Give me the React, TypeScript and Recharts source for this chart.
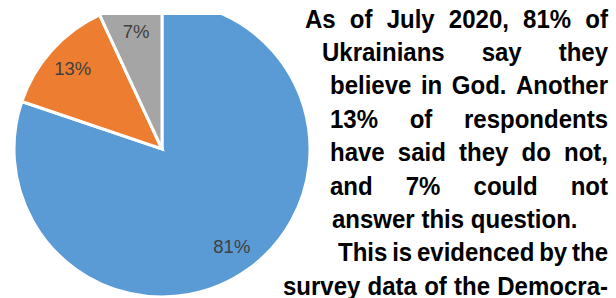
import { PieChart, Pie, Cell } from 'recharts';

// survey answers (July 2020)
const categories = ['Believe in God', 'Do not believe', 'Could not answer'];
const shares = [81, 13, 7];
const COLORS = ['#5B9BD5', '#ED7D31', '#A5A5A5'];

const textLines = [
  'As of July 2020, 81% of',
  'Ukrainians say they',
  'believe in God. Another',
  '13% of respondents',
  'have said they do not,',
  'and 7% could not',
  'answer this question.',
  'This is evidenced by the',
  'survey data of the Democra-',
];
// left edge of each wrapped line (text flows around the pie)
const lineLeft = [305, 322, 330, 330, 330, 330, 332, 338, 283];
const lineJustified = [true, true, true, true, true, true, false, true, true];

const RADIAN = Math.PI / 180;
const NARROW = 0.96; // slightly condensed, like the source face
const RIGHT = 608;

const renderLabel = (props: any) => {
  const { cx, cy, midAngle, outerRadius, value } = props;
  const r = outerRadius * 0.81;
  const x = cx + r * Math.cos(-midAngle * RADIAN);
  const y = cy + r * Math.sin(-midAngle * RADIAN);
  return (
    <text
      x={x}
      y={y}
      fill="#404040"
      fontSize={18.5}
      fontFamily="'Liberation Sans', sans-serif"
      textAnchor="middle"
      dominantBaseline="central"
    >
      {`${value}%`}
    </text>
  );
};

export default function App() {
  const data = categories.map((name, i) => ({ name, value: shares[i] }));

  return (
    <div style={{ position: 'fixed', left: 0, top: 0, width: 616, height: 298, overflow: 'hidden', background: '#fff' }}>
      {/* pie, cut off along the top like in the source page */}
      <div style={{ position: 'absolute', left: 0, top: 0, clipPath: 'inset(15px 0 0 0)' }}>
        <PieChart width={320} height={298} margin={{ top: 0, right: 0, bottom: 0, left: 0 }}>
          <Pie
            data={data}
            dataKey="value"
            cx={162}
            cy={149}
            outerRadius={148}
            startAngle={90}
            endAngle={-270}
            stroke="#fff"
            strokeWidth={3}
            label={renderLabel}
            labelLine={false}
            isAnimationActive={false}
          >
            {data.map((entry, index) => (
              <Cell key={`cell-${index}`} fill={COLORS[index]} />
            ))}
          </Pie>
        </PieChart>
      </div>

      {/* wrapped paragraph to the right */}
      {textLines.map((line, i) => (
        <div
          key={i}
          style={{
            position: 'absolute',
            left: lineLeft[i],
            width: (RIGHT - lineLeft[i]) / NARROW,
            top: 2.6 + i * 33.4,
            height: 33.4,
            lineHeight: '33.4px',
            fontSize: 25,
            fontWeight: 'bold',
            fontFamily: "'Liberation Sans', Arial, sans-serif",
            color: '#000',
            display: 'flex',
            justifyContent: lineJustified[i] ? 'space-between' : 'flex-start',
            gap: lineJustified[i] ? 0 : 7,
            whiteSpace: 'nowrap',
            transform: `scaleX(${NARROW})`,
            transformOrigin: '0 0',
          }}
        >
          {line.split(' ').map((w, j) => (
            <span key={j}>{w}</span>
          ))}
        </div>
      ))}
    </div>
  );
}
